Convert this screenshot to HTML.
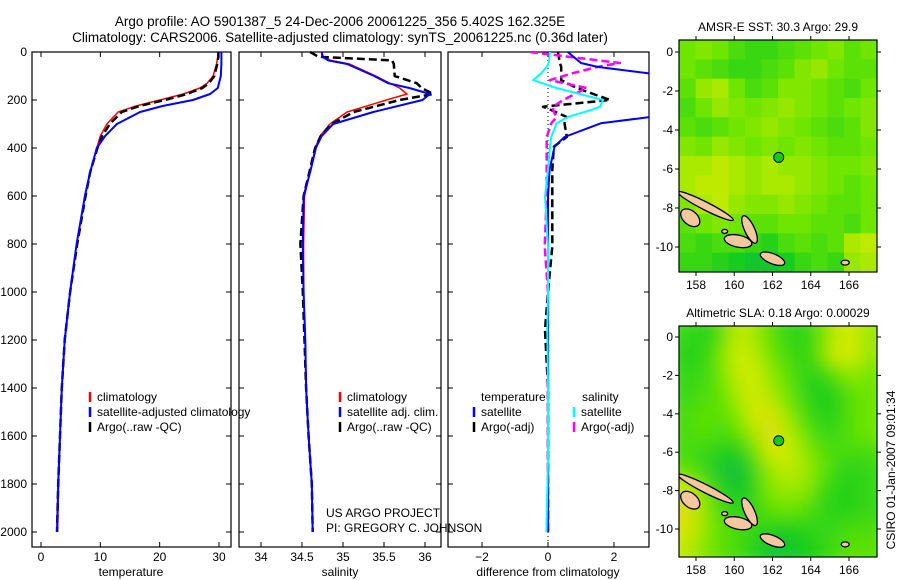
<!DOCTYPE html>
<html><head><meta charset="utf-8">
<style>
html,body{margin:0;padding:0;background:#fff;}
svg{display:block;font-family:"Liberation Sans",sans-serif;}
text{fill:#000;}
</style></head>
<body>
<svg id="chart" width="900" height="580" viewBox="0 0 900 580">
<defs>
<clipPath id="clip3"><rect x="448" y="52" width="201" height="495"/></clipPath>
<clipPath id="clipm1"><rect x="679" y="40" width="198" height="232"/></clipPath>
<clipPath id="clipm2"><rect x="679" y="326" width="198" height="231"/></clipPath>
<filter id="blur" x="0" y="0" width="1" height="1"><feGaussianBlur stdDeviation="9"/></filter>
</defs>
<text x="340" y="26" font-size="13.5" text-anchor="middle">Argo profile: AO 5901387_5 24-Dec-2006 20061225_356 5.402S 162.325E</text>
<text x="340" y="42" font-size="13.5" text-anchor="middle">Climatology: CARS2006. Satellite-adjusted climatology: synTS_20061225.nc (0.36d later)</text>
<g id="g"></g>
<text x="326" y="517" font-size="12">US ARGO PROJECT</text>
<text x="326" y="532" font-size="12">PI: GREGORY C. JOHNSON</text>
<text transform="translate(895,470) rotate(-90)" font-size="12" text-anchor="middle">CSIRO 01-Jan-2007 09:01:34</text>
</svg>
<script>
// ---- data ----
const tDepth = [0,20,50,100,130,150,175,200,225,250,300,350,400,500,600,800,1000,1200,1400,1600,1800,2000];
const tClim  = [29.8,29.8,29.6,29.0,28.0,26.8,24.0,20.0,16.0,13.0,11.1,10.0,9.4,8.3,7.4,6.0,4.9,4.0,3.5,3.2,2.95,2.8];
const tSat   = [30.4,30.4,30.4,30.3,30.0,29.8,28.5,25.6,20.5,16.7,12.8,10.8,9.4,8.3,7.4,6.0,4.9,4.0,3.5,3.2,2.9,2.7];
const tArgo  = [29.9,29.9,29.7,29.2,28.3,27.2,24.6,20.9,16.6,13.6,11.6,10.3,9.5,8.3,7.5,6.1,4.9,4.0,3.5,3.2,2.9,2.7];
const sDepth = [0,20,35,50,100,130,150,175,200,250,300,350,400,500,600,800,1000,1200,1400,1600,1800,2000];
const sClim  = [34.74,34.76,34.85,35.08,35.40,35.57,35.69,35.78,35.53,35.05,34.84,34.72,34.66,34.60,34.53,34.52,34.52,34.54,34.55,34.58,34.62,34.63];
const sSat   = [34.74,34.75,34.82,35.05,35.38,35.55,35.81,36.06,35.97,35.37,34.88,34.74,34.67,34.60,34.52,34.51,34.52,34.54,34.55,34.58,34.62,34.63];
const sArgo  = [34.60,34.70,35.60,35.62,35.63,35.90,35.96,36.10,35.69,35.13,34.86,34.73,34.66,34.59,34.52,34.48,34.51,34.53,34.55,34.58,34.62,34.63];
const dDepth = [0,46,62,88,117,150,200,228,242,271,297,354,394,490,603,810,1000,1158,1400,1700,2000];
const dTempSat  = [0.6,1.0,1.5,3.0,4.5,5.0,5.5,4.5,4.2,3.1,1.6,0.5,0.2,0.05,0,0,0,0,0,0,0];
const dSalSat   = [0.06,0.02,-0.04,-0.2,-0.45,0.26,1.67,1.58,1.3,0.6,0.26,0.1,0.06,0,-0.09,0,0,-0.02,0,0,-0.05];
const dTempArgo = [0.3,0.36,0.4,0.4,0.4,0.87,1.88,-0.15,0.1,0.57,0.5,0.57,0.18,0.13,0.13,0.13,0,-0.09,0,0,0];
const dSalArgo  = [-0.55,2.18,1.5,0.76,0.06,1.17,0.46,0.15,0.15,0.26,0.1,-0.04,-0.04,-0.04,-0.04,-0.1,0,0,0,0,0];
const depthTicks = [0,200,400,600,800,1000,1200,1400,1600,1800,2000];
const tTicks = [0,10,20,30];
const sTicks = [34,34.5,35,35.5,36];
const dTicks = [-2,0,2];
const lonTicks = [158,160,162,164,166];
const latTicks = [0,-2,-4,-6,-8,-10];
const sstGrid = [
[.5,.55,.5,.4,.35,.35,.4,.45,.5,.55,.45,.5],
[.5,.45,.4,.35,.35,.4,.45,.55,.6,.5,.45,.45],
[.45,.6,.65,.5,.4,.45,.55,.55,.5,.45,.4,.5],
[.4,.5,.6,.55,.5,.55,.6,.55,.5,.45,.5,.55],
[.45,.4,.45,.5,.55,.6,.55,.5,.45,.4,.45,.55],
[.55,.5,.6,.55,.5,.55,.5,.55,.5,.45,.45,.5],
[.65,.65,.7,.65,.6,.65,.6,.6,.55,.5,.5,.55],
[.65,.7,.7,.65,.6,.65,.65,.6,.55,.5,.45,.5],
[.55,.65,.7,.6,.55,.55,.6,.55,.5,.45,.45,.5],
[.45,.5,.55,.5,.45,.45,.5,.5,.45,.45,.4,.5],
[.4,.35,.4,.4,.35,.3,.4,.45,.4,.45,.65,.7],
[.35,.35,.3,.25,.2,.2,.25,.35,.4,.35,.6,.65]];
const slaGrid = [
[.35,.3,.4,.7,.65,.45,.35,.3,.45,.7,.75,.6],
[.3,.3,.5,.75,.7,.5,.4,.3,.45,.75,.75,.6],
[.35,.35,.5,.7,.75,.6,.45,.35,.3,.45,.6,.5],
[.35,.4,.45,.65,.75,.65,.5,.35,.25,.3,.45,.5],
[.4,.45,.45,.55,.75,.8,.6,.4,.3,.3,.45,.5],
[.4,.45,.4,.45,.65,.85,.7,.5,.35,.35,.45,.5],
[.4,.35,.3,.25,.45,.75,.75,.6,.45,.4,.4,.4],
[.45,.35,.2,.15,.3,.6,.7,.65,.5,.35,.3,.35],
[.75,.5,.3,.2,.3,.55,.6,.6,.4,.3,.3,.35],
[.85,.6,.4,.3,.35,.45,.5,.45,.35,.3,.3,.35],
[.8,.6,.45,.4,.35,.3,.25,.3,.35,.35,.4,.4],
[.7,.55,.45,.4,.3,.2,.2,.25,.3,.4,.45,.45]];
const islandLon = [158.5,157.7,160.2,160.8,162.0,165.8,159.5];
const islandLat = [-7.9,-8.5,-9.7,-9.1,-10.6,-10.8,-9.2];
const argoLon = 162.325, argoLat = -5.402;

// ---- helpers ----
const NS="http://www.w3.org/2000/svg";
const G=document.getElementById('g');
function mk(tag,attrs,parent){const e=document.createElementNS(NS,tag);for(const k in attrs)e.setAttribute(k,attrs[k]);(parent||G).appendChild(e);return e;}
const yD = d => 52 + d*0.24;
function lin(d0,d1,p0,p1){return v=>p0+(v-d0)*(p1-p0)/(d1-d0);}
const xT = lin(0,30,41,219);
const xS = lin(34,36,261,425);
const xDf = lin(-2,2,482,614);

function frame(x0,x1,name){
  const r=mk('rect',{x:x0,y:52,width:x1-x0,height:495,fill:'none',stroke:'#000','stroke-width':1.2});
  
  
  depthTicks.forEach(d=>{
    mk('line',{x1:x0,x2:x0+5,y1:yD(d),y2:yD(d),stroke:'#000'});
    mk('line',{x1:x1-5,x2:x1,y1:yD(d),y2:yD(d),stroke:'#000'});
  });
}
function xticks(ticks,fx,x0,title,titleName){
  ticks.forEach(v=>{
    const x=fx(v);
    mk('line',{x1:x,x2:x,y1:547,y2:542,stroke:'#000'});
    mk('line',{x1:x,x2:x,y1:52,y2:57,stroke:'#000'});
    const t=mk('text',{x:x,y:561,'font-size':12,'text-anchor':'middle'});
    t.textContent=(v>=0||fx!==xDf)?String(v):'\u2212'+Math.abs(v);
    
    
  });
  const tt=mk('text',{x:x0,y:576,'font-size':12,'text-anchor':'middle'});
  tt.textContent=title;
  
  
}
function line(depths,vals,fx,color,w,dash,name,clip){
  const pts=depths.map((d,i)=>fx(vals[i]).toFixed(1)+','+yD(d).toFixed(1)).join(' ');
  const a={points:pts,fill:'none',stroke:color,'stroke-width':w,'stroke-linejoin':'round'};
  if(dash)a['stroke-dasharray']=dash;
  if(clip)a['clip-path']='url(#'+clip+')';
  const p=mk('polyline',a);
  
  
}
function legend(x,y,color,label,dash,name){
  mk('line',{x1:x,x2:x,y1:y-9,y2:y+1,stroke:color,'stroke-width':2.5});
  const t=mk('text',{x:x+7,y:y,'font-size':12});
  t.textContent=label;
  
  
}

// ---- panel 1: temperature ----
frame(32,231,'temperature-panel');
depthTicks.forEach(d=>{
  const t=mk('text',{x:27,y:yD(d)+4,'font-size':12,'text-anchor':'end'});
  t.textContent=d;
  
  
});
xticks(tTicks,xT,131,'temperature','x-axis-title-temperature');
line(tDepth,tClim,xT,'#f00',1.5,null,'temp-climatology-line');
line(tDepth,tArgo,xT,'#000',2.5,'8,4','temp-argo-line');
line(tDepth,tSat,xT,'#00f',2,null,'temp-satellite-line');
legend(90,401,'#f00','climatology',null,'legend-climatology');
legend(90,416,'#00f','satellite-adjusted climatology',null,'legend-satellite');
legend(90,431,'#000','Argo(..raw -QC)',null,'legend-argo');

// ---- panel 2: salinity ----
frame(239,441,'salinity-panel');
xticks(sTicks,xS,340,'salinity','x-axis-title-salinity');
line(sDepth,sClim,xS,'#f00',1.5,null,'sal-climatology-line');
line(sDepth,sArgo,xS,'#000',2.5,'8,4','sal-argo-line');
line(sDepth,sSat,xS,'#00f',2,null,'sal-satellite-line');
legend(340,401,'#f00','climatology',null,'legend-sal-climatology');
legend(340,416,'#00f','satellite adj. clim.',null,'legend-sal-satellite');
legend(340,431,'#000','Argo(..raw -QC)',null,'legend-sal-argo');

// ---- panel 3: differences ----
frame(448,649,'difference-panel');
xticks(dTicks,xDf,548,'difference from climatology','x-axis-title-difference');
mk('line',{x1:xDf(0),x2:xDf(0),y1:52,y2:547,stroke:'#000','stroke-dasharray':'1,3'});
line(dDepth,dTempArgo,xDf,'#000',2.5,'8,4','diff-temp-argo-line','clip3');
line(dDepth,dSalArgo,xDf,'#f0f',2.5,'8,4','diff-sal-argo-line','clip3');
line(dDepth,dTempSat,xDf,'#00f',2,null,'diff-temp-satellite-line','clip3');
line(dDepth,dSalSat,xDf,'#0ff',2,null,'diff-sal-satellite-line','clip3');
const lt=mk('text',{x:481,y:401,'font-size':12});lt.textContent='temperature';


const ls=mk('text',{x:582,y:401,'font-size':12});ls.textContent='salinity';


legend(474,416,'#00f','satellite',null,'legend-diff-temp-satellite');
legend(474,431,'#000','Argo(-adj)',null,'legend-diff-temp-argo');
legend(574,416,'#0ff','satellite',null,'legend-diff-sal-satellite');
legend(574,431,'#f0f','Argo(-adj)',null,'legend-diff-sal-argo');

// ---- maps ----
function cmap(v){
  const stops=[[0,[16,170,110]],[0.25,[20,205,30]],[0.5,[110,230,0]],[0.75,[210,235,0]],[1,[245,195,30]]];
  for(let i=1;i<stops.length;i++){if(v<=stops[i][0]){const [a,ca]=stops[i-1],[b,cb]=stops[i];const f=(v-a)/(b-a);return 'rgb('+ca.map((c,j)=>Math.round(c+(cb[j]-c)*f)).join(',')+')';}}
  return 'rgb(245,195,30)';
}
const islShape=[[31,4,27],[11,7,40],[14,6,12],[5,15,-25],[13,5,22],[4,2.5,0],[3,2,0]];
function map(top,h,lat0y,latPx,grid,title,clip,blur,name){
  const x0=679,w=198;
  const fLon=lin(158,166,696,849), fLat=v=>lat0y-v*latPx;
  const tt=mk('text',{x:778,y:top-9,'font-size':12,'text-anchor':'middle'});tt.textContent=title;
  
  
  const gc=mk('g',{'clip-path':'url(#'+clip+')'});
  const gg=mk('g',blur?{filter:'url(#blur)'}:{},gc);
  const rows=grid.length,cols=grid[0].length;
  const cw=w/cols,ch=h/rows;
  grid.forEach((row,r)=>row.forEach((v,c)=>{
    const pad=blur?12:0;
    const cell=mk('rect',{x:x0+c*cw-(c==0?pad:0),y:top+r*ch-(r==0?pad:0),width:cw+0.6+(c==0||c==cols-1?pad:0),height:ch+0.6+(r==0||r==rows-1?pad:0),fill:cmap(v)},gg);
    
    
  }));
  islandLon.forEach((lo,i)=>{
    const cx=fLon(lo),cy=fLat(islandLat[i]);const [rx,ry,a]=islShape[i];
    const e=mk('ellipse',{cx:cx,cy:cy,rx:rx,ry:ry,fill:'#f5c7a0',stroke:'#000','stroke-width':1.3,transform:'rotate('+a+' '+cx+' '+cy+')'},gc);
    
    
  });
  const pt=mk('circle',{cx:fLon(argoLon),cy:fLat(argoLat),r:5,fill:'#1c1',stroke:'#000','stroke-width':1});
  
  
  const fr=mk('rect',{x:x0,y:top,width:w,height:h,fill:'none',stroke:'#000','stroke-width':1.2});
  
  
  lonTicks.forEach(v=>{const x=fLon(v);
    mk('line',{x1:x,x2:x,y1:top+h,y2:top+h+4,stroke:'#000'});
    mk('line',{x1:x,x2:x,y1:top-4,y2:top,stroke:'#000'});
    const t=mk('text',{x:x,y:top+h+17,'font-size':12,'text-anchor':'middle'});t.textContent=v;
    
    });
  latTicks.forEach(v=>{const y=fLat(v);
    mk('line',{x1:x0-4,x2:x0,y1:y,y2:y,stroke:'#000'});
    mk('line',{x1:x0+w,x2:x0+w+4,y1:y,y2:y,stroke:'#000'});
    const t=mk('text',{x:x0-6,y:y+4,'font-size':12,'text-anchor':'end'});t.textContent=v;
    
    });
}
map(40,232,52,19.5,sstGrid,'AMSR-E SST: 30.3 Argo: 29.9','clipm1',false,'sst-map');
map(326,231,337,19.2,slaGrid,'Altimetric SLA: 0.18 Argo: 0.00029','clipm2',true,'sla-map');
</script>
</body></html>
